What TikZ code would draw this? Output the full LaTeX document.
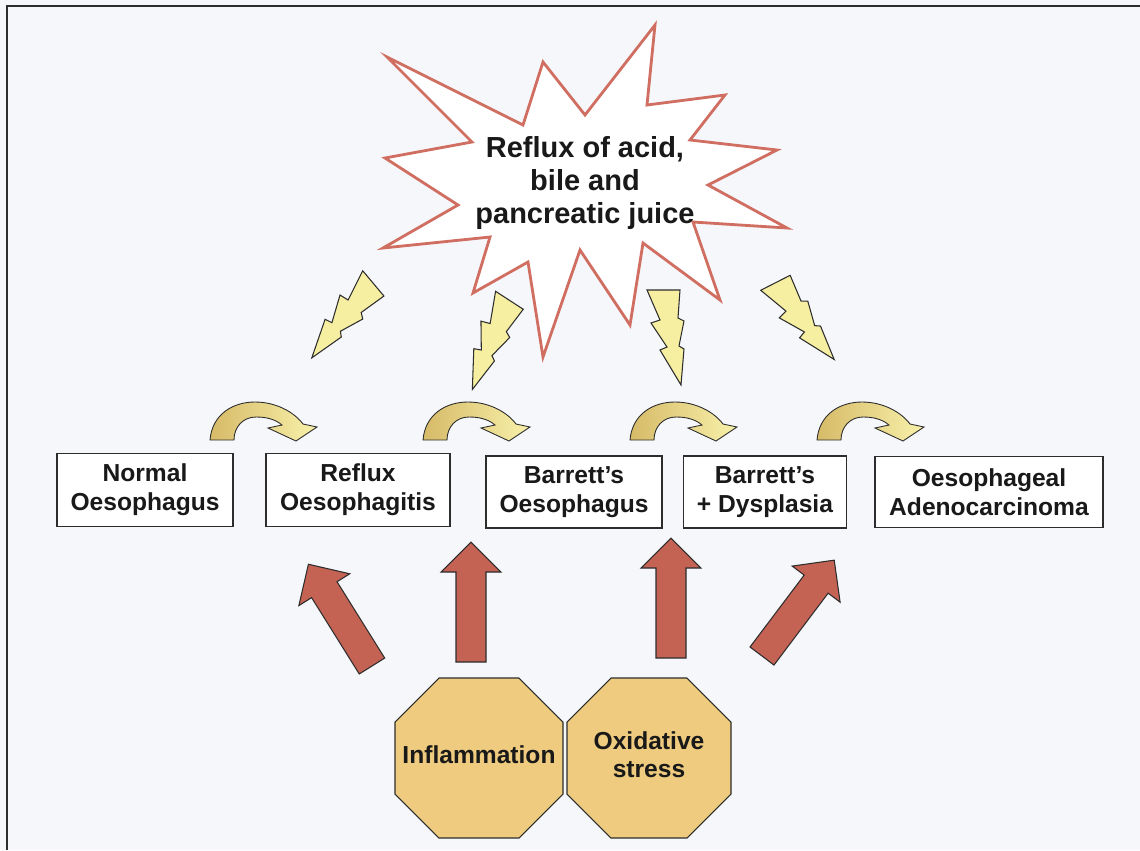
\documentclass[tikz,border=0pt]{standalone}
\usepackage{fontspec}
\setmainfont{Liberation Sans}
\usetikzlibrary{calc}
\definecolor{paper}{RGB}{246,247,250}
\definecolor{edge}{RGB}{45,45,45}
\definecolor{burstred}{RGB}{208,110,98}
\definecolor{pushred}{RGB}{196,98,84}
\definecolor{boltyellow}{RGB}{246,238,160}
\definecolor{hoplight}{RGB}{248,241,170}
\definecolor{hopdark}{RGB}{214,186,104}
\definecolor{octtan}{RGB}{238,203,126}
\tikzset{
	frameline/.style={draw=edge, line width=1pt},
	burst/.style={draw=burstred, line width=1.6pt, fill=white, line join=miter},
	bursttext/.style={align=center, font=\fontsize{16.5}{19}\selectfont\bfseries, text=black!90},
	stage/.style={draw=edge, line width=0.7pt, fill=white, align=center, inner sep=0pt,
		font=\fontsize{14}{16.4}\selectfont\bfseries, text=black!90},
	boltshape/.style={draw=edge, line width=0.6pt, fill=boltyellow, line join=miter},
	hopshape/.style={draw=edge, line width=0.5pt, left color=hopdark, middle color=hoplight, right color=hoplight},
	pushshape/.style={draw=edge, line width=0.6pt, fill=pushred},
	octshape/.style={draw=edge, line width=0.6pt, fill=octtan},
	octtext/.style={align=center, font=\fontsize{14}{16}\selectfont\bfseries, text=black!90}
}
\def\bolt(#1)(#2){\draw[boltshape, shift={(#1)}, rotate=#2] (-16,0) -- (17,0) -- (15,28) -- (21,31) -- (16,56) -- (21,59) -- (18,95) -- (-3,60) -- (4,57) -- (-12,33) -- (-3,30) -- cycle;}
\def\hoparrow(#1){\draw[hopshape, shift={(#1)}] (0,0) .. controls (2,-25) and (22,-38) .. (45,-38) .. controls (66,-38) and (84,-28) .. (93,-16) -- (107,-13) -- (86,1) -- (58,-12) -- (72,-15) .. controls (65,-21) and (56,-23) .. (46,-23) .. controls (33,-23) and (24,-13) .. (24,0) -- cycle;}
\def\pusharrow(#1)(#2){\draw[pushshape, shift={(#1)}, rotate=#2] (-15,0) -- (-15,-90) -- (-30,-90) -- (0,-120) -- (30,-90) -- (15,-90) -- (15,0) -- cycle;}

\begin{document}
\begin{tikzpicture}[x=0.02cm, y=-0.02cm]
			%%%%% START %%%%%
			
			\fill[paper] (0,0) rectangle (1140,850);
			\useasboundingbox (0,0) rectangle (1140,850);
			\draw[frameline] (1140,6) -- (7,6) -- (7,850);
			
			\draw[burst] (387,57) -- (523,125) -- (543,62) -- (585,115) -- (655,25) -- (647,105) -- (725,95) -- (690,140) -- (777,150) -- (708,185) -- (787,228) -- (693,222) -- (720,300) -- (643,243) -- (630,325) -- (580,250) -- (543,357) -- (528,262) -- (473,293) -- (490,237) -- (383,248) -- (458,205) -- (385,158) -- (472,142) -- cycle;
			\node[bursttext] (reflux) at (585,183) {Reflux of acid,\\bile and\\pancreatic juice};
			
			\bolt(373,283)(-50)
			\bolt(509,300)(-33)
			\bolt(663,290)(0)
			\bolt(775,283)(27)
			
			\hoparrow(210,440)
			\hoparrow(423,440)
			\hoparrow(630,440)
			\hoparrow(817,440)
			
			\node[stage, minimum width=3.52cm, minimum height=1.46cm] (normal) at (145,490) {Normal\\Oesophagus};
			\node[stage, minimum width=3.68cm, minimum height=1.46cm] (oesoph) at (358,490) {Reflux\\Oesophagitis};
			\node[stage, minimum width=3.52cm, minimum height=1.44cm] (barrett) at (574,492) {Barrett’s\\Oesophagus};
			\node[stage, minimum width=3.26cm, minimum height=1.44cm] (dysplasia) at (765,492) {Barrett’s\\+ Dysplasia};
			\node[stage, minimum width=4.56cm, minimum height=1.42cm] (adeno) at (989,492) {Oesophageal\\Adenocarcinoma};
			
			\pusharrow(372,666)(32)
			\pusharrow(471,662)(0)
			\pusharrow(671,658)(0)
			\pusharrow(762,656)(-37)
			
			\draw[octshape] (439,678) -- (519,678) -- (563,722) -- (563,794) -- (519,838) -- (439,838) -- (395,794) -- (395,722) -- cycle;
			\draw[octshape] (611,678) -- (687,678) -- (731,722) -- (731,794) -- (687,838) -- (611,838) -- (567,794) -- (567,722) -- cycle;
			\node[octtext] (inflam) at (479,755) {Inflammation};
			\node[octtext] (oxid) at (649,755) {Oxidative\\stress};
			
			%%%%% END %%%%%
		\end{tikzpicture}
\end{document}
